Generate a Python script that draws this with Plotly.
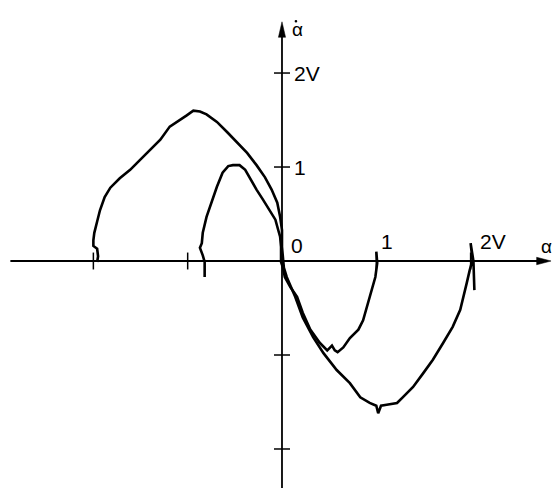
import plotly.graph_objects as go

# Phase-plane trajectories: alpha (horizontal) vs. alpha-dot (vertical), in volts.
# Large trajectory, released at alpha ~ -2 V
big_x = [-1.96, -1.95, -1.96, -2.00, -2.00, -1.99, -1.96, -1.93, -1.88, -1.82, -1.72, -1.61,
         -1.51, -1.40, -1.29, -1.19, -1.11, -1.01, -0.94, -0.87, -0.80, -0.69, -0.58, -0.48,
         -0.37, -0.27, -0.18, -0.11, -0.05, -0.02, 0.00, 0.00, 0.01,
         0.02, 0.05, 0.10, 0.14, 0.22, 0.33, 0.44, 0.58, 0.72, 0.83, 0.93, 1.00, 1.02, 1.05,
         1.11, 1.22, 1.28, 1.39, 1.50, 1.60, 1.71, 1.81, 1.89, 1.92, 1.96, 1.99, 2.02, 2.00,
         2.03, 2.04]
big_y = [-0.01, 0.05, 0.13, 0.16, 0.22, 0.30, 0.42, 0.54, 0.68, 0.78, 0.88, 0.97,
         1.07, 1.18, 1.29, 1.43, 1.48, 1.55, 1.60, 1.59, 1.56, 1.48, 1.37, 1.26,
         1.15, 1.02, 0.89, 0.76, 0.62, 0.47, 0.33, 0.15, -0.01,
         -0.07, -0.17, -0.28, -0.38, -0.60, -0.81, -0.98, -1.16, -1.30, -1.45, -1.51, -1.54, -1.62, -1.54,
         -1.53, -1.51, -1.45, -1.34, -1.19, -1.05, -0.87, -0.70, -0.52, -0.38, -0.23, -0.10, 0.01, 0.19,
         0.00, -0.31]

# Small trajectory, released at alpha ~ -0.85 V
small_x = [-0.82, -0.82, -0.84, -0.87, -0.85, -0.84, -0.80, -0.74, -0.69, -0.63, -0.57, -0.52,
           -0.45, -0.39, -0.34, -0.27, -0.20, -0.13, -0.07, -0.04, -0.02, -0.01, -0.01,
           0.01, 0.03, 0.09, 0.16, 0.22, 0.30, 0.40, 0.48, 0.53, 0.56, 0.59, 0.65, 0.72,
           0.81, 0.86, 0.91, 0.95, 0.99, 1.01, 1.00]
small_y = [-0.17, -0.01, 0.06, 0.14, 0.19, 0.30, 0.47, 0.65, 0.79, 0.94, 1.01, 1.02,
           1.02, 0.97, 0.88, 0.76, 0.65, 0.54, 0.44, 0.33, 0.26, 0.15, -0.01,
           -0.07, -0.17, -0.28, -0.38, -0.55, -0.73, -0.87, -0.95, -0.90, -0.95, -0.97, -0.92, -0.82,
           -0.73, -0.63, -0.45, -0.31, -0.17, -0.02, 0.10]

# Axis ticks and their labels
x_ticks = [-2, -1, 1, 2]
y_ticks = [-2, -1, 1, 2]
x_tick_labels = {1: "1", 2: "2V"}
y_tick_labels = {1: "1", 2: "2V"}

X_RANGE = [-2.990, 2.863]
Y_RANGE = [-2.415, 2.777]
FONT = "Liberation Sans, Arial, sans-serif"

fig = go.Figure()
for xs, ys in ((big_x, big_y), (small_x, small_y)):
    fig.add_trace(go.Scatter(x=xs, y=ys, mode="lines",
                             line=dict(color="black", width=2.6),
                             hoverinfo="skip", showlegend=False))

axis_line = dict(color="black", width=1.8)
shapes = [
    # axes
    dict(type="line", x0=-2.88, x1=2.75, y0=0, y1=0, line=axis_line),
    dict(type="line", x0=0, x1=0, y0=-2.6, y1=2.45, line=axis_line),
    # narrow filled arrowheads
    dict(type="path", path="M 2.853 0 L 2.700 0.04 L 2.700 -0.04 Z",
         fillcolor="black", line=dict(color="black", width=0.5)),
    dict(type="path", path="M 0 2.545 L 0.038 2.38 L -0.038 2.38 Z",
         fillcolor="black", line=dict(color="black", width=0.5)),
    # time-derivative dot over the vertical axis name
    dict(type="circle", x0=0.134, x1=0.162, y0=2.537, y1=2.565,
         fillcolor="black", line=dict(color="black", width=0)),
]
for t in x_ticks:
    shapes.append(dict(type="line", x0=t, x1=t, y0=-0.09, y1=0.09,
                       line=dict(color="black", width=1.5)))
for t in y_ticks:
    shapes.append(dict(type="line", x0=-0.085, x1=0.085, y0=t, y1=t,
                       line=dict(color="black", width=1.5)))

annotations = []
for t, lab in x_tick_labels.items():
    annotations.append(dict(x=t + 0.03 + (0.05 if t == 2 else 0), y=0.21, text=lab,
                            showarrow=False, xanchor="left", yanchor="middle",
                            font=dict(family=FONT, size=21, color="black")))
for t, lab in y_tick_labels.items():
    annotations.append(dict(x=0.11, y=t, text=lab, showarrow=False,
                            xanchor="left", yanchor="middle",
                            font=dict(family=FONT, size=21, color="black")))
annotations += [
    dict(x=0.07, y=0.16, text="0", showarrow=False, xanchor="left", yanchor="middle",
         font=dict(family=FONT, size=21, color="black")),
    dict(x=2.72, y=0.15, text="α", showarrow=False, xanchor="left", yanchor="middle",
         font=dict(family=FONT, size=19, color="black")),
    dict(x=0.08, y=2.46, text="α", showarrow=False, xanchor="left", yanchor="middle",
         font=dict(family=FONT, size=19, color="black")),
]

fig.update_layout(
    width=552, height=488,
    margin=dict(l=0, r=0, t=0, b=0),
    paper_bgcolor="white", plot_bgcolor="white",
    xaxis=dict(range=X_RANGE, visible=False, fixedrange=True),
    yaxis=dict(range=Y_RANGE, visible=False, fixedrange=True),
    shapes=shapes, annotations=annotations,
)

fig.write_html("out.html")
